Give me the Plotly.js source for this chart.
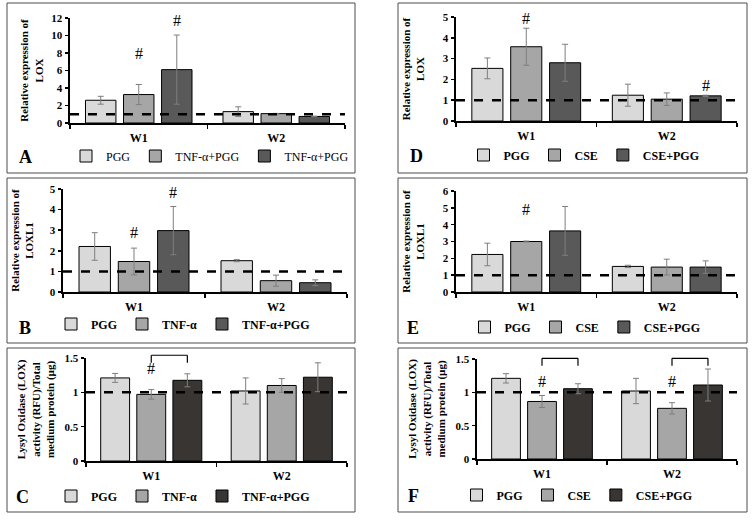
<!DOCTYPE html>
<html>
<head>
<meta charset="utf-8">
<script src="https://cdn.plot.ly/plotly-3.0.1.min.js"></script>
<style>html,body{margin:0;padding:0;background:#fff;}#chart{width:754px;height:520px;}</style>
</head>
<body>
<div id="chart"></div>
<script>
// ---------------- DATA ----------------
const weeks = ['W1', 'W2'];
const refLevel = 1;

// Panel A : Relative expression of LOX (TNF-α)
const namesA = ['PGG', 'TNF-α+PGG', 'TNF-α+PGG'];
const A_pgg = [2.6, 1.3],   A_pggErr = [0.45, 0.55];
const A_tnf = [3.25, 1.07], A_tnfErr = [1.15, 0.03];
const A_tnfPgg = [6.1, 0.75], A_tnfPggErr = [3.95, 0.03];
const A_hash = [[0, 1, 7.9], [0, 2, 11.7]];           // [week index, series index, value]

// Panel B : Relative expression of LOXL1 (TNF-α)
const namesB = ['PGG', 'TNF-α', 'TNF-α+PGG'];
const B_pgg = [2.21, 1.52], B_pggErr = [0.67, 0.05];
const B_tnf = [1.48, 0.55], B_tnfErr = [0.65, 0.27];
const B_tnfPgg = [2.98, 0.45], B_tnfPggErr = [1.17, 0.14];
const B_hash = [[0, 1, 2.9], [0, 2, 4.85]];

// Panel C : LOX activity (TNF-α)
const namesC = ['PGG', 'TNF-α', 'TNF-α+PGG'];
const C_pgg = [1.21, 1.02], C_pggErr = [0.065, 0.19];
const C_tnf = [0.97, 1.10], C_tnfErr = [0.07, 0.10];
const C_tnfPgg = [1.175, 1.22], C_tnfPggErr = [0.095, 0.21];
const C_hash = [[0, 1, 1.34]];
const C_brackets = [[0, 1, 2, 1.43, 1.54]];           // [week, from series, to series, low, high]

// Panel D : Relative expression of LOX (CSE)
const namesD = ['PGG', 'CSE', 'CSE+PGG'];
const D_pgg = [2.53, 1.24], D_pggErr = [0.5, 0.53];
const D_cse = [3.57, 1.05], D_cseErr = [0.89, 0.3];
const D_csePgg = [2.8, 1.21], D_csePggErr = [0.89, 0.03];
const D_hash = [[0, 1, 4.95], [1, 2, 1.73]];

// Panel E : Relative expression of LOXL1 (CSE)
const namesE = ['PGG', 'CSE', 'CSE+PGG'];
const E_pgg = [2.23, 1.52], E_pggErr = [0.67, 0.07];
const E_cse = [3.0, 1.48], E_cseErr = [0.03, 0.47];
const E_csePgg = [3.63, 1.48], E_csePggErr = [1.45, 0.37];
const E_hash = [[0, 1, 4.91]];

// Panel F : LOX activity (CSE)
const namesF = ['PGG', 'CSE', 'CSE+PGG'];
const F_pgg = [1.21, 1.02], F_pggErr = [0.07, 0.19];
const F_cse = [0.863, 0.76], F_cseErr = [0.09, 0.085];
const F_csePgg = [1.054, 1.11], F_csePggErr = [0.075, 0.24];
const F_hash = [[0, 1, 1.16], [1, 1, 1.17]];
const F_brackets = [[0, 1, 2, 1.40, 1.51], [1, 1, 2, 1.40, 1.51]];

// ---------------- STYLE / LAYOUT ----------------
const W = 754, H = 520;
const FONT = 'Liberation Serif, Times New Roman, serif';
const BARGAP = 0.17, BARGROUPGAP = 0.2;
const lightC = '#d9d9d9', midC = '#a6a6a6', darkC = '#595959', darkerC = '#383532';

const titleLOX = 'Relative expression of<br>LOX';
const titleLOXL1 = 'Relative expression of<br>LOXL1';
const titleAct = 'Lysyl Oxidase (LOX)<br>activity (RFU)/Total<br>medium protein (µg)';

const panels = [
  {id: '', letter: 'A', names: namesA, vals: [A_pgg, A_tnf, A_tnfPgg], errs: [A_pggErr, A_tnfErr, A_tnfPggErr],
   colors: [lightC, midC, darkC], ymax: 12, dtick: 2, title: titleLOX, hash: A_hash, brackets: [],
   px: [70, 345], py: [18, 123], frame: [7, 355, 3, 173], leg: [210, 156], legBold: false, letterPos: [25, 157], standoff: 6},
  {id: '2', letter: 'B', names: namesB, vals: [B_pgg, B_tnf, B_tnfPgg], errs: [B_pggErr, B_tnfErr, B_tnfPggErr],
   colors: [lightC, midC, darkC], ymax: 5, dtick: 1, title: titleLOXL1, hash: B_hash, brackets: [],
   px: [63, 347], py: [189, 292], frame: [7, 355, 178, 343], leg: [183, 324], legBold: true, letterPos: [25, 328], standoff: 14},
  {id: '3', letter: 'C', names: namesC, vals: [C_pgg, C_tnf, C_tnfPgg], errs: [C_pggErr, C_tnfErr, C_tnfPggErr],
   colors: [lightC, midC, darkerC], ymax: 1.5, dtick: 0.5, title: titleAct, hash: C_hash, brackets: C_brackets,
   px: [86, 347], py: [358, 461], frame: [7, 355, 348, 512], leg: [183, 496], legBold: true, letterPos: [22, 497], standoff: 8},
  {id: '4', letter: 'D', names: namesD, vals: [D_pgg, D_cse, D_csePgg], errs: [D_pggErr, D_cseErr, D_csePggErr],
   colors: [lightC, midC, darkC], ymax: 5, dtick: 1, title: titleLOX, hash: D_hash, brackets: [],
   px: [456, 737], py: [17, 121], frame: [398, 747, 3, 173], leg: [584, 155], legBold: true, letterPos: [417, 156], standoff: 16},
  {id: '5', letter: 'E', names: namesE, vals: [E_pgg, E_cse, E_csePgg], errs: [E_pggErr, E_cseErr, E_csePggErr],
   colors: [lightC, midC, darkC], ymax: 6, dtick: 1, title: titleLOXL1, hash: E_hash, brackets: [],
   px: [456, 737], py: [191, 292], frame: [398, 747, 178, 343], leg: [585, 327], legBold: true, letterPos: [413, 328], standoff: 16},
  {id: '6', letter: 'F', names: namesF, vals: [F_pgg, F_cse, F_csePgg], errs: [F_pggErr, F_cseErr, F_csePggErr],
   colors: [lightC, midC, darkerC], ymax: 1.5, dtick: 0.5, title: titleAct, hash: F_hash, brackets: F_brackets,
   px: [477, 737], py: [359, 459], frame: [398, 747, 348, 512], leg: [577, 495], legBold: true, letterPos: [413, 496], standoff: 8}
];

const slotW = (1 - BARGAP) / 3;
const traces = [];
const layout = {
  width: W, height: H,
  margin: {l: 0, r: 0, t: 0, b: 0},
  paper_bgcolor: '#ffffff', plot_bgcolor: 'rgba(0,0,0,0)',
  barmode: 'group', bargap: BARGAP, bargroupgap: BARGROUPGAP,
  font: {family: FONT, color: '#000'},
  showlegend: true,
  shapes: [], annotations: []
};

panels.forEach((p, pi) => {
  const xa = 'x' + p.id, ya = 'y' + p.id;
  const legId = 'legend' + p.id;
  p.names.forEach((nm, si) => {
    traces.push({
      type: 'bar', name: nm, x: weeks, y: p.vals[si],
      xaxis: xa, yaxis: ya, legend: legId,
      marker: {color: p.colors[si], line: {color: '#000', width: 1}},
      error_y: {type: 'data', array: p.errs[si], visible: true, color: '#7f7f7f', thickness: 1, width: 3},
      hoverinfo: 'skip'
    });
  });
  layout['xaxis' + p.id] = {
    domain: [p.px[0] / W, p.px[1] / W], anchor: ya, type: 'category',
    showline: true, linecolor: '#000', linewidth: 2,
    ticks: 'outside', tickson: 'boundaries', ticklen: 4, tickwidth: 1.5, tickcolor: '#000',
    tickfont: {family: FONT, size: 12, weight: 'bold'}, ticklabelstandoff: 3,
    showgrid: false, zeroline: false, fixedrange: true
  };
  layout['yaxis' + p.id] = {
    domain: [1 - p.py[1] / H, 1 - p.py[0] / H], anchor: xa,
    range: [0, p.ymax], dtick: p.dtick, tick0: 0,
    showline: true, linecolor: '#000', linewidth: 2.5,
    ticks: 'outside', ticklen: 3, tickwidth: 1.5, tickcolor: '#000',
    tickfont: {family: FONT, size: 11, weight: 'bold'},
    title: {text: p.title, font: {family: FONT, size: 11, weight: 'bold'}, standoff: p.standoff},
    showgrid: false, zeroline: false, fixedrange: true
  };
  layout[legId] = {
    orientation: 'h', x: p.leg[0] / W, y: 1 - p.leg[1] / H, xanchor: 'center', yanchor: 'middle',
    xref: 'paper', yref: 'paper', bgcolor: 'rgba(0,0,0,0)', itemwidth: 30, traceorder: 'normal',
    font: {family: FONT, size: 12, weight: p.legBold ? 'bold' : 'normal'}
  };
  // panel frame
  layout.shapes.push({type: 'rect', xref: 'paper', yref: 'paper',
    x0: p.frame[0] / W, x1: p.frame[1] / W, y0: 1 - p.frame[3] / H, y1: 1 - p.frame[2] / H,
    line: {color: '#4d4d4d', width: 1}, fillcolor: 'rgba(0,0,0,0)', layer: 'below'});
  // reference line
  layout.shapes.push({type: 'line', xref: xa + ' domain', yref: ya, x0: 0, x1: 1, y0: refLevel, y1: refLevel,
    line: {color: '#000', width: 2.5, dash: 'dash'}, layer: 'above'});
  // brackets
  p.brackets.forEach(b => {
    const x0 = b[0] + (b[1] - 1) * slotW, x1 = b[0] + (b[2] - 1) * slotW;
    const lo = b[3] / p.ymax, hi = b[4] / p.ymax;
    const st = {color: '#000', width: 1.2};
    layout.shapes.push({type: 'line', xref: xa, yref: ya + ' domain', x0: x0, x1: x1, y0: hi, y1: hi, line: st});
    layout.shapes.push({type: 'line', xref: xa, yref: ya + ' domain', x0: x0, x1: x0, y0: lo, y1: hi, line: st});
    layout.shapes.push({type: 'line', xref: xa, yref: ya + ' domain', x0: x1, x1: x1, y0: lo, y1: hi, line: st});
  });
  // significance marks
  p.hash.forEach(h => {
    layout.annotations.push({xref: xa, yref: ya, x: h[0] + (h[1] - 1) * slotW, y: h[2], text: '#',
      showarrow: false, xanchor: 'center', yanchor: 'middle', font: {family: FONT, size: 16, color: '#000'}});
  });
  // panel letter
  layout.annotations.push({xref: 'paper', yref: 'paper', x: p.letterPos[0] / W, y: 1 - p.letterPos[1] / H,
    text: p.letter, showarrow: false, xanchor: 'center', yanchor: 'middle',
    font: {family: FONT, size: 18, weight: 'bold', color: '#000'}});
});

Plotly.newPlot('chart', traces, layout, {staticPlot: true, displayModeBar: false});
</script>
</body>
</html>
